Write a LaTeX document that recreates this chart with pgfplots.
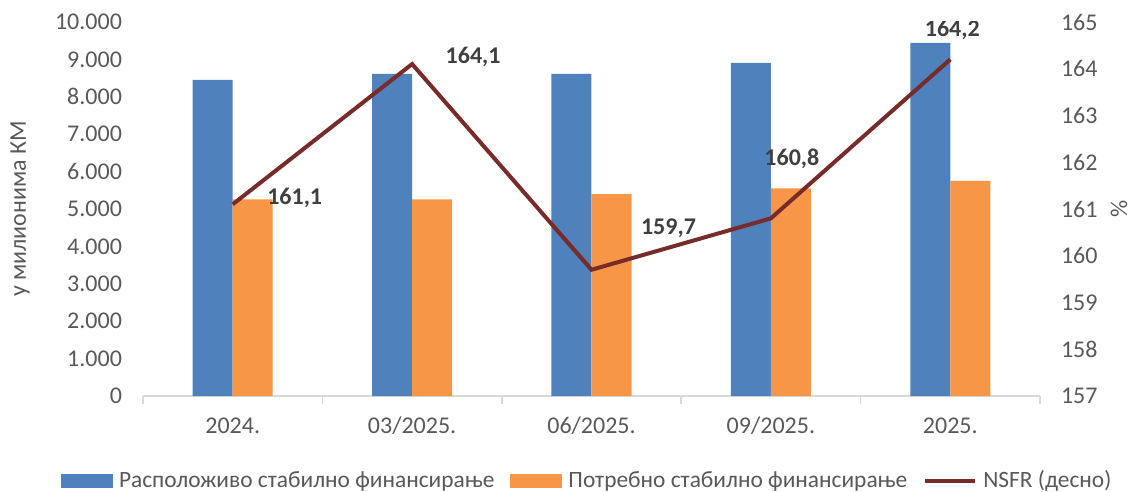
\documentclass[border=0pt]{standalone}
\usepackage{fontspec}
\setmainfont{Carlito}
\usepackage{pgfplots}
\pgfplotsset{compat=1.18}
\definecolor{cblue}{HTML}{4F81BD}
\definecolor{corange}{HTML}{F79646}
\definecolor{cline}{HTML}{772C2A}
\definecolor{ctext}{HTML}{595959}
\definecolor{cval}{HTML}{404040}
\definecolor{caxis}{HTML}{D9D9D9}

\begin{document}
\begin{tikzpicture}[font=\fontsize{12}{14}\selectfont]
\begin{axis}[
  scale only axis, width=448.5pt, height=187pt,
  xmin=-0.5, xmax=4.5, ymin=0, ymax=10000,
  ybar=0pt, bar width=20pt,
  axis x line*=bottom, axis y line*=left,
  axis line style={-},
  x axis line style={draw=caxis, line width=0.8pt},
  y axis line style={draw=none},
  xtick={0,1,2,3,4},
  xticklabels={2024.,03/2025.,06/2025.,09/2025.,2025.},
  xticklabel style={anchor=center, yshift=-15pt, text=ctext},
  major tick length=0pt,
  extra x ticks={-0.5,0.5,1.5,2.5,3.5,4.5},
  extra x tick labels={},
  extra x tick style={major tick length=4pt, tick align=outside, major tick style={draw=caxis, line width=0.8pt}},
  ytick={0,1000,...,10000},
  ytick style={draw=none},
  scaled y ticks=false,
  yticklabel style={/pgf/number format/.cd, 1000 sep={.}, assume math mode=true, /tikz/.cd, text=ctext, xshift=-7pt},
  ylabel={у милионима КМ},
  ylabel style={at={(axis description cs:-0.137,0.5)}, anchor=center, text=ctext},
  legend style={at={(axis description cs:-0.0914,-0.227)}, anchor=west, legend columns=3, draw=none, text=ctext,
    font=\fontsize{11.7}{14}\selectfont,
    inner sep=0pt, outer sep=0pt, nodes={inner sep=0pt},
    /tikz/every odd column/.append style={column sep=3pt},
    /tikz/every even column/.append style={column sep=8pt}},
  legend cell align=left,
]
\addplot[fill=cblue, draw=none, area legend, legend image code/.code={\fill[cblue] (0pt,-3.5pt) rectangle (26pt,3.5pt);}] coordinates {(0,8450) (1,8610) (2,8610) (3,8910) (4,9440)};
\addlegendentry{Расположиво стабилно финансирање}
\addplot[fill=corange, draw=none, area legend, legend image code/.code={\fill[corange] (0pt,-3.5pt) rectangle (26pt,3.5pt);}] coordinates {(0,5260) (1,5260) (2,5400) (3,5550) (4,5750)};
\addlegendentry{Потребно стабилно финансирање}
\addlegendimage{legend image code/.code={\draw[cline, line width=2pt] (0pt,0pt) -- (25pt,0pt);}}
\addlegendentry{NSFR (десно)}
\end{axis}
\begin{axis}[
  scale only axis, width=448.5pt, height=187pt,
  xmin=-0.5, xmax=4.5, ymin=157, ymax=165,
  axis x line=none, axis y line*=right,
  axis line style={-},
  y axis line style={draw=none},
  ytick={157,...,165},
  ytick style={draw=none},
  yticklabel style={/pgf/number format/.cd, assume math mode=true, /tikz/.cd, text=ctext, xshift=7pt},
  ylabel={\%},
  ylabel style={at={(axis description cs:1.088,0.5)}, anchor=center, text=ctext},
]
\addplot[cline, line width=2pt] coordinates {(0,161.1) (1,164.1) (2,159.7) (3,160.8) (4,164.2)};
\begin{scope}[every node/.style={font=\fontsize{12}{14}\selectfont\bfseries, text=cval}]
\node at (axis cs:0,161.1) [xshift=31pt, yshift=3pt] {161,1};
\node at (axis cs:1,164.1) [xshift=30.5pt, yshift=3.5pt] {164,1};
\node at (axis cs:2,159.7) [xshift=38.5pt, yshift=21pt] {159,7};
\node at (axis cs:3,160.8) [xshift=10.5pt, yshift=30pt] {160,8};
\node at (axis cs:4,164.2) [xshift=1pt, yshift=14.5pt] {164,2};
\end{scope}
\end{axis}
\pgfresetboundingbox
\path (-71.5pt,-48pt) rectangle (495.5pt,198pt);
\end{tikzpicture}
\end{document}
